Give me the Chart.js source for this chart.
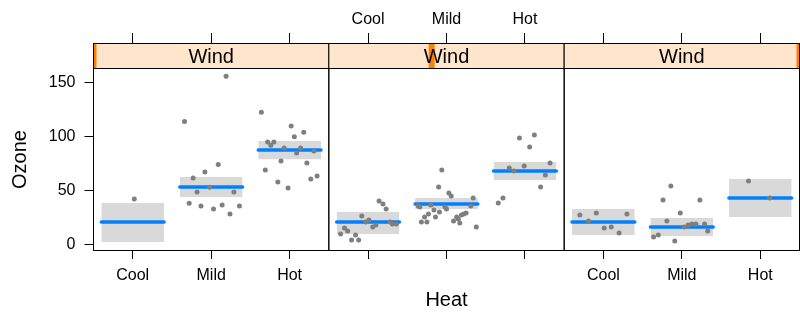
<!DOCTYPE html>
<html>
<head>
<meta charset="utf-8">
<script src="https://cdn.jsdelivr.net/npm/chart.js@4.4.1/dist/chart.umd.min.js"></script>
<style>
  html, body { margin: 0; padding: 0; background: #fff; }
</style>
</head>
<body>
<canvas id="effectPlot" width="800" height="320"></canvas>
<script>
const heatLevels = ['Cool', 'Mild', 'Hot'];
const stripLabels = ['Wind', 'Wind', 'Wind'];
const windAt = [1.7, 10, 20.7];
const windRange = [1.7, 20.7];
const ozoneTicks = [0, 50, 100, 150];
const ozoneRange = [-5.3, 163.6];

// fitted mean and confidence limits, one row per panel, Cool/Mild/Hot
const fitMean = [[20.7, 53.2, 87.5], [20.7, 37.4, 68.0], [20.7, 16.1, 43.0]];
const fitLower = [[2.1, 43.9, 79.0], [9.5, 32.7, 59.6], [8.6, 7.7, 25.3]];
const fitUpper = [[38.3, 62.4, 95.8], [30.0, 43.0, 76.3], [32.7, 24.4, 60.6]];

// partial residuals: [jittered heat level, ozone]
const obsPanel1 = [
  [1.02, 42],
  [1.66, 114], [2.09, 74], [1.92, 67], [1.77, 61.5], [1.82, 48.5], [1.98, 53], [2.29, 48.5],
  [1.72, 38], [1.87, 35.5], [2.03, 32.7], [2.14, 36.5], [2.36, 35.5], [2.24, 28], [2.19, 156],
  [2.64, 122.6], [3.02, 109.7], [3.18, 104], [3.06, 99.7], [2.72, 95], [2.80, 95], [2.76, 92],
  [2.93, 89.4], [3.14, 89.4], [3.09, 84.7], [3.31, 86.6], [2.89, 77.3], [3.22, 75.4], [2.69, 68.9],
  [2.85, 57.8], [2.98, 52.2], [3.27, 60.6], [3.35, 63.4]
];
const obsPanel2 = [
  [1.14, 40.1], [1.19, 37.4], [1.23, 32.7], [0.92, 26.2], [0.97, 20.7], [1.01, 22.5], [0.70, 15.1],
  [0.74, 12.3], [0.65, 9.5], [0.79, 4], [0.84, 8.6], [0.88, 4], [1.06, 16.1], [1.10, 18],
  [1.28, 20.7], [1.31, 18.8], [1.36, 18.8],
  [1.94, 69], [1.90, 53.2], [2.03, 47.6], [2.06, 44.8], [2.34, 43], [1.64, 35.5], [1.66, 34.6],
  [1.80, 36.5], [1.98, 34.6], [2.00, 32.7], [2.31, 35.5], [1.84, 31.8], [1.77, 28.1], [1.91, 30],
  [1.72, 25.3], [1.86, 25.3], [2.19, 27.1], [2.22, 28.1], [2.25, 29], [2.13, 25.3], [2.15, 23.4],
  [2.09, 21.6], [1.68, 20.7], [1.75, 20.7], [2.17, 19.7], [2.38, 16.1],
  [2.93, 98.6], [3.12, 101.4], [3.06, 90.3], [3.32, 75.4], [2.99, 72.6], [2.80, 70.8], [2.86, 68],
  [3.26, 64.3], [3.20, 53.2], [2.72, 43], [2.66, 38.3]
];
const obsPanel3 = [
  [0.70, 27.2], [0.81, 21.6], [0.91, 29], [1.01, 15.1], [1.10, 16.1], [1.20, 10.5], [1.30, 28.1],
  [1.86, 54.1], [1.76, 41.1], [2.23, 41.1], [1.98, 29], [1.81, 21.6], [2.03, 16.1], [2.08, 17.9],
  [2.13, 18.8], [2.18, 18.8], [2.29, 18.8], [2.33, 12.3], [1.64, 6.8], [1.70, 8.6], [1.91, 3],
  [2.85, 58.7], [3.12, 43]
];
const observations = [obsPanel1, obsPanel2, obsPanel3];

const FONT = '"Liberation Sans", Arial, Helvetica, sans-serif';
const BLUE = '#0080FF';
const BAND = '#D9D9D9';
const DOT = '#7F7F7F';
const STRIP_BG = '#FFE5CC';
const STRIP_MARK = '#FF7F00';
const HALF_BAND = 0.4;

Chart.defaults.font.family = FONT;
Chart.defaults.color = '#000';

const panelIds = ['x1', 'x2', 'x3'];

const datasets = [];
panelIds.forEach((xid, p) => {
  datasets.push({
    type: 'scatter',
    xAxisID: xid,
    data: observations[p].map(([x, y]) => ({ x, y })),
    pointRadius: 2.5,
    pointBackgroundColor: DOT,
    pointBorderWidth: 0,
    order: 0,
  });
  heatLevels.forEach((lvl, c) => {
    const x0 = c + 1 - HALF_BAND, x1 = c + 1 + HALF_BAND;
    datasets.push({
      type: 'line',
      xAxisID: xid,
      data: [{ x: x0, y: fitMean[p][c] }, { x: x1, y: fitMean[p][c] }],
      borderColor: BLUE,
      borderWidth: 3.5,
      borderCapStyle: 'round',
      pointRadius: 0,
      fill: false,
      order: 1,
    });
    datasets.push({
      type: 'line',
      xAxisID: xid,
      data: [{ x: x0, y: fitUpper[p][c] }, { x: x1, y: fitUpper[p][c] }],
      borderWidth: 0,
      borderColor: 'rgba(0,0,0,0)',
      backgroundColor: BAND,
      pointRadius: 0,
      fill: { value: fitLower[p][c] },
      order: 2,
    });
  });
});

function heatAxis(position, showLabels) {
  const top = position === 'top';
  return {
    type: 'linear',
    position: position,
    stack: position,
    min: 0.5,
    max: 3.5,
    afterBuildTicks: s => { s.ticks = heatLevels.map((_, i) => ({ value: i + 1 })); },
    afterFit: s => {
      s.height = top ? 43 : 70;
      s.paddingLeft = 0;
      s.paddingRight = 0;
    },
    ticks: {
      display: showLabels,
      padding: top ? 4 : 7,
      autoSkip: false,
      maxRotation: 0,
      font: { size: 16 },
      color: '#000',
      callback: v => heatLevels[v - 1],
    },
    grid: { drawOnChartArea: false, drawTicks: true, tickLength: top ? 10 : 9, color: '#000', tickColor: '#000' },
    border: { display: false },
  };
}

const scales = {
  y: {
    type: 'linear',
    position: 'left',
    min: ozoneRange[0],
    max: ozoneRange[1] + (ozoneRange[1] - ozoneRange[0]) * 25 / 182,
    afterBuildTicks: s => { s.ticks = ozoneTicks.map(v => ({ value: v })); },
    afterFit: s => {
      s.width = 93.5;
      s.paddingTop = 0;
      s.paddingBottom = 0;
    },
    ticks: { padding: 9, font: { size: 16 }, color: '#000' },
    grid: { drawOnChartArea: false, drawTicks: true, tickLength: 9, color: '#000', tickColor: '#000' },
    border: { display: false },
  },
};
panelIds.forEach((id, p) => {
  scales[id] = heatAxis('bottom', p !== 1);
  scales['t' + (p + 1)] = heatAxis('top', p === 1);
});
scales.x2.title = { display: true, text: 'Heat', font: { size: 20 }, color: '#000', padding: { top: 0, bottom: 8 } };

// lattice-style strips, panel boxes and the y title
const latticePanels = {
  id: 'latticePanels',
  afterDatasetsDraw(chart) {
    const { ctx, chartArea } = chart;
    const ys = chart.scales.y;
    const top = Math.floor(chartArea.top) + 0.5;
    const stripBottom = Math.floor(ys.getPixelForValue(ozoneRange[1])) + 0.5;
    const bottom = Math.floor(chartArea.bottom) + 0.5;
    ctx.save();
    panelIds.forEach((id, p) => {
      const sx = chart.scales[id];
      const l = sx.left, r = sx.right;
      ctx.fillStyle = STRIP_BG;
      ctx.fillRect(l, top, r - l, stripBottom - top);
      const f = (windAt[p] - windRange[0]) / (windRange[1] - windRange[0]);
      const cx = l + f * (r - l);
      ctx.save();
      ctx.beginPath();
      ctx.rect(l, top, r - l, stripBottom - top);
      ctx.clip();
      ctx.fillStyle = STRIP_MARK;
      ctx.fillRect(cx - 3, top, 6, stripBottom - top);
      ctx.restore();
      ctx.fillStyle = '#000';
      ctx.font = '20px ' + FONT;
      ctx.textAlign = 'center';
      ctx.textBaseline = 'middle';
      ctx.fillText(stripLabels[p], (l + r) / 2, (top + stripBottom) / 2 + 1);
      ctx.strokeStyle = '#000';
      ctx.lineWidth = 1;
      ctx.strokeRect(l, top, r - l, stripBottom - top);
      ctx.strokeRect(l, stripBottom, r - l, bottom - stripBottom);
    });
    ctx.translate(20.5, (stripBottom + bottom) / 2);
    ctx.rotate(-Math.PI / 2);
    ctx.fillStyle = '#000';
    ctx.font = '20px ' + FONT;
    ctx.textAlign = 'center';
    ctx.textBaseline = 'middle';
    ctx.fillText('Ozone', 0, 0);
    ctx.restore();
  },
};

new Chart(document.getElementById('effectPlot').getContext('2d'), {
  type: 'scatter',
  data: { datasets },
  options: {
    responsive: false,
    animation: false,
    events: [],
    layout: { autoPadding: false, padding: { right: 0.5 } },
    plugins: {
      legend: { display: false },
      tooltip: { enabled: false },
    },
    scales,
  },
  plugins: [latticePanels],
});
</script>
</body>
</html>
